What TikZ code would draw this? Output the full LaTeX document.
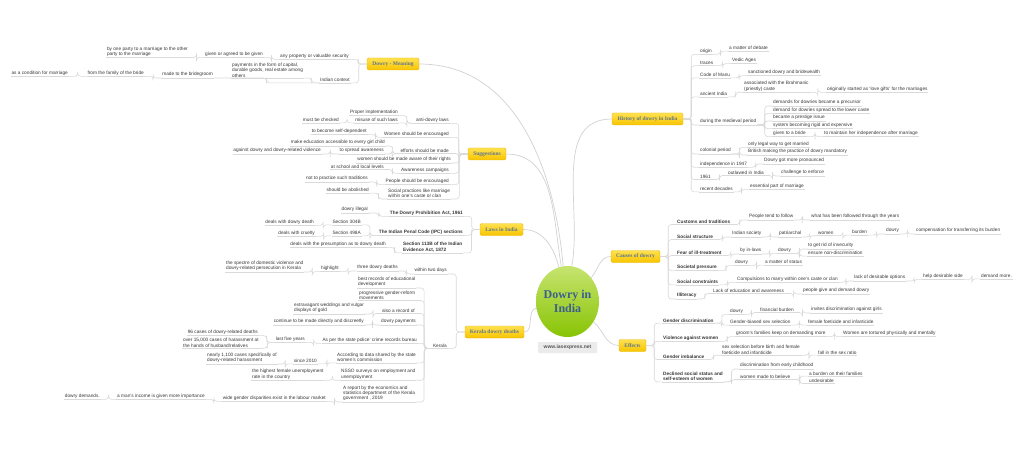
\documentclass[tikz,border=0pt]{standalone}
\usepackage{fontspec}
\setmainfont{Liberation Sans}
\newfontfamily\serifb{Liberation Serif}
\usetikzlibrary{shapes.geometric,calc}
\definecolor{txt}{HTML}{383838}
\definecolor{lnc}{HTML}{DADADA}
\definecolor{mlnc}{HTML}{D2D2D2}
\definecolor{boxtxt}{HTML}{5F7690}
\definecolor{boxtop}{HTML}{FFE14F}
\definecolor{boxbot}{HTML}{F7C400}
\definecolor{boxdraw}{HTML}{E8BC10}
\definecolor{elltop}{HTML}{C6E470}
\definecolor{ellbot}{HTML}{88C404}
\definecolor{centxt}{HTML}{3C5F8C}
\definecolor{wwwbg}{HTML}{EBEBEB}
\definecolor{wwwtxt}{HTML}{555555}
\tikzset{
 lab/.style={font=\fontsize{4.75}{5.35}\selectfont, text=txt, inner xsep=0.7pt, inner ysep=0.9pt, align=left},
 bld/.style={font=\fontsize{4.75}{5.35}\selectfont\bfseries},
 ulc/.style={draw=lnc, line width=0.5pt},
 conn/.style={draw=lnc, line width=0.6pt, rounded corners=3pt},
 mainconn/.style={draw=mlnc, line width=0.7pt},
 topic/.style={rounded corners=1.5pt, top color=boxtop, bottom color=boxbot, draw=boxdraw, line width=0.4pt,
   font=\serifb\bfseries\fontsize{5.5}{6}\selectfont, text=boxtxt, minimum height=12pt, inner sep=0pt},
}
\newcommand\mmnode[4][]{\node[lab,#1] (#2) at (#3) {#4}; \draw[ulc] (#2.south west) -- (#2.south east);}
\newcommand\conR[2]{\draw[conn] (#1.south east) -| ($(#1.south east)!.5!(#2.south west)$) |- (#2.south west);}
\newcommand\conL[2]{\draw[conn] (#1.south west) -| ($(#1.south west)!.5!(#2.south east)$) |- (#2.south east);}
\newcommand\conRb[2]{\draw[conn] (#1.east) -| ($(#1.east)!.5!(#2.south west)$) |- (#2.south west);}
\newcommand\conLb[2]{\draw[conn] (#1.west) -| ($(#1.west)!.5!(#2.south east)$) |- (#2.south east);}
\begin{document}
\begin{tikzpicture}[x=1pt,y=-1pt]
\fill[white] (0,0) rectangle (1024,449);
\useasboundingbox (0,0) rectangle (1024,449);

% centre
\node[ellipse, minimum width=63pt, minimum height=71pt, top color=elltop, bottom color=ellbot, draw=none] (D) at (567.5,301.5) {};
\node[font=\serifb\bfseries\fontsize{12}{13.7}\selectfont, text=centxt, align=center, inner sep=0pt] (Dt) at (D.center) {Dowry in\\India};
\node[fill=wwwbg, rounded corners=1pt, minimum width=59pt, minimum height=11pt, inner sep=0pt, font=\fontsize{5}{6}\selectfont\bfseries, text=wwwtxt] (W) at (567.5,347.5) {www.iasexpress.net};

% main topics
\node[topic, minimum width=52pt] (M) at (393,64) {Dowry - Meaning};
\node[topic, minimum width=38pt] (S) at (487,154) {Suggestions};
\node[topic, minimum width=43pt] (L) at (501.5,229.5) {Laws in India};
\node[topic, minimum width=59pt] (K) at (494.5,332) {Kerala dowry deaths};
\node[topic, minimum width=71pt] (H) at (647.5,119) {History of dowry in India};
\node[topic, minimum width=49pt] (C) at (635.5,256.5) {Causes of dowry};
\node[topic, minimum width=27pt] (E) at (632.5,345.5) {Effects};

\draw[mainconn] (M.east) to[out=0,in=95] (D.97);
\draw[mainconn] (S.east) to[out=0,in=100] (D.100);
\draw[mainconn] (L.east) to[out=0,in=105] (D.104);
\draw[mainconn] (H.west) to[out=180,in=80] (D.83);
\draw[mainconn] (C.west) to[out=180,in=50] (D.45);
\draw[mainconn] (E.west) to[out=180,in=-40] (D.-38);
\draw[mainconn] (K.east) to[out=0,in=190] (D.192);

% Dowry - Meaning
\mmnode[anchor=east]{M1}{349.7,56}{any property or valuable security}
\mmnode[anchor=east]{M11}{263.7,54}{given or agreed to be given}
\mmnode[anchor=east]{M111}{188.7,51.5}{by one party to a marriage to the other\\party to the marriage}
\mmnode[anchor=east]{M2}{350.7,80}{Indian context}
\mmnode[anchor=west]{M21}{231.3,70}{payments in the form of capital,\\durable goods, real estate among\\others}
\mmnode[anchor=east]{M22}{213.7,74.7}{made to the bridegroom}
\mmnode[anchor=east]{M221}{144.7,73}{from the family of the bride}
\mmnode[anchor=east]{M2211}{68.7,73}{as a condition for marriage}
\conLb{M}{M1} \conLb{M}{M2}
\conL{M1}{M11} \conL{M11}{M111}
\conL{M2}{M21} \conL{M2}{M22} \conL{M22}{M221} \conL{M221}{M2211}

% Suggestions
\mmnode[anchor=east]{S1}{449.7,120}{anti-dowry laws}
\mmnode[anchor=east]{S11}{398.7,112.3}{Proper implementation}
\mmnode[anchor=east]{S12}{398.7,120}{misuse of such laws}
\mmnode[anchor=east]{S121}{339.7,120}{must be checked}
\mmnode[anchor=east]{S2}{449.7,134}{Women should be encouraged}
\mmnode[anchor=east]{S21}{367.7,131}{to become self-dependent}
\mmnode[anchor=east]{S3}{449.7,150.7}{efforts should be made}
\mmnode[anchor=east]{S31}{385.7,142.7}{make education accessible to every girl child}
\mmnode[anchor=east]{S32}{384.7,150.7}{to spread awareness}
\mmnode[anchor=east]{S321}{321.7,150.7}{against dowry and dowry-related violence}
\mmnode[anchor=east]{S4}{451.7,159.7}{women should be made aware of their rights}
\mmnode[anchor=east]{S5}{449.7,170}{Awareness campaigns}
\mmnode[anchor=east]{S51}{384.7,166.7}{at school and local levels}
\mmnode[anchor=east]{S6}{449.7,181.3}{People should be encouraged}
\mmnode[anchor=east]{S61}{368.7,178.7}{not to practice such traditions}
\mmnode[anchor=west]{S7}{387.3,193.5}{Social practices like marriage\\within one's caste or clan}
\mmnode[anchor=east]{S71}{369.7,190.3}{should be abolished}
\conLb{S}{S1} \conLb{S}{S2} \conLb{S}{S3} \conLb{S}{S4} \conLb{S}{S5} \conLb{S}{S6} \conLb{S}{S7}
\conL{S1}{S11} \conL{S1}{S12} \conL{S12}{S121} \conL{S2}{S21} \conL{S3}{S31} \conL{S3}{S32}
\conL{S32}{S321} \conL{S5}{S51} \conL{S6}{S61} \conL{S7}{S71}

% Laws in India
\mmnode[bld,anchor=east]{L1}{463.7,213}{The Dowry Prohibition Act, 1961}
\mmnode[anchor=east]{L11}{368.7,209.7}{dowry illegal}
\mmnode[bld,anchor=east]{L2}{463.7,232}{The Indian Penal Code (IPC) sections}
\mmnode[anchor=east]{L21}{361.7,222}{Section 304B}
\mmnode[anchor=east]{L211}{314.7,222}{deals with dowry death}
\mmnode[anchor=east]{L22}{361.7,233}{Section 498A}
\mmnode[anchor=east]{L221}{315.7,233}{deals with cruelty}
\mmnode[bld,anchor=west]{L3}{402.3,247}{Section 113B of the Indian\\Evidence Act, 1872}
\mmnode[anchor=east]{L31}{386.7,244}{deals with the presumption as to dowry death}
\conLb{L}{L1} \conLb{L}{L2} \conLb{L}{L3}
\conL{L1}{L11} \conL{L2}{L21} \conL{L21}{L211} \conL{L2}{L22} \conL{L22}{L221} \conL{L3}{L31}

% Kerala dowry deaths
\mmnode[anchor=east]{K1}{447.7,270.7}{within two days}
\mmnode[anchor=east]{K11}{398.7,267.7}{three dowry deaths}
\mmnode[anchor=east]{K111}{339.7,268.3}{highlight}
\mmnode[anchor=west]{K1111}{225.3,266}{the spectre of domestic violence and\\dowry-related persecution in Kerala}
\mmnode[anchor=east]{K2}{447.7,345.5}{Kerala}
\mmnode[anchor=west]{K21}{357.3,282}{best records of educational\\development}
\mmnode[anchor=west]{K22}{358.3,295}{progressive gender-reform\\movements}
\mmnode[anchor=east]{K23}{415.7,310.7}{also a record of}
\mmnode[anchor=west]{K231}{293.3,308}{extravagant weddings and vulgar\\displays of gold}
\mmnode[anchor=east]{K24}{416.7,321.7}{dowry payments}
\mmnode[anchor=east]{K241}{364.7,321.7}{continue to be made directly and discreetly}
\mmnode[anchor=east]{K25}{417.7,340}{As per the state police' crime records bureau}
\mmnode[anchor=east]{K251}{305.7,339}{last five years}
\mmnode[anchor=east]{K2511}{258.7,332.3}{96 cases of dowry-related deaths}
\mmnode[anchor=west]{K2512}{182.3,342.7}{over 15,000 cases of harassment at\\the hands of husband/relatives}
\mmnode[anchor=west]{K26}{336.3,357.3}{According to data shared by the state\\women's commission}
\mmnode[anchor=east]{K261}{317.7,361}{since 2010}
\mmnode[anchor=west]{K2611}{206.3,358}{nearly 1,100 cases specifically of\\dowry-related harassment}
\mmnode[anchor=west]{K27}{340.3,374.3}{NSSO surveys on employment and\\unemployment}
\mmnode[anchor=west]{K271}{251.3,374.3}{the highest female unemployment\\rate in the country}
\mmnode[anchor=west]{K28}{342.3,393.3}{A report by the economics and\\statistics department of the Kerala\\government , 2019}
\mmnode[anchor=east]{K281}{326.7,398}{wide gender disparities exist in the labour market}
\mmnode[anchor=east]{K2811}{205.7,396}{a man's income is given more importance}
\mmnode[anchor=east]{K28111}{100.7,396}{dowry demands.}
\conLb{K}{K1} \conLb{K}{K2}
\conL{K1}{K11} \conL{K11}{K111} \conL{K111}{K1111}
\conL{K2}{K21} \conL{K2}{K22} \conL{K2}{K23} \conL{K2}{K24} \conL{K2}{K25} \conL{K2}{K26} \conL{K2}{K27} \conL{K2}{K28}
\conL{K23}{K231} \conL{K24}{K241} \conL{K25}{K251} \conL{K251}{K2511} \conL{K251}{K2512}
\conL{K26}{K261} \conL{K261}{K2611} \conL{K27}{K271} \conL{K28}{K281} \conL{K281}{K2811} \conL{K2811}{K28111}

% History of dowry in India
\mmnode[anchor=west]{H1}{699.3,51}{origin}
\mmnode[anchor=west]{H11}{728.3,48.3}{a matter of debate}
\mmnode[anchor=west]{H2}{699.3,63}{traces}
\mmnode[anchor=west]{H21}{731.3,60.3}{Vedic Ages}
\mmnode[anchor=west]{H3}{699.3,75}{Code of Manu}
\mmnode[anchor=west]{H31}{747.3,72.3}{sanctioned dowry and bridewealth}
\mmnode[anchor=west]{H4}{699.3,94}{ancient India}
\mmnode[anchor=west]{H41}{743.3,86.3}{associated with the Brahmanic\\(priestly) caste}
\mmnode[anchor=west]{H411}{826.3,89}{originally started as `love gifts' for the marriages}
\mmnode[anchor=west]{H5}{699.3,121.7}{during the medieval period}
\mmnode[anchor=west]{H51}{772.3,102.7}{demands for dowries became a precursor}
\mmnode[anchor=west]{H52}{772.3,110}{demand for dowries spread to the lower caste}
\mmnode[anchor=west]{H53}{772.3,117.7}{became a prestige issue}
\mmnode[anchor=west]{H54}{772.3,125.3}{system becoming rigid and expensive}
\mmnode[anchor=west]{H55}{772.3,133.3}{given to a bride}
\mmnode[anchor=west]{H551}{823.3,133.3}{to maintain her independence after marriage}
\mmnode[anchor=west]{H6}{699.3,150.7}{colonial period}
\mmnode[anchor=west]{H61}{747.3,144}{only legal way to get married}
\mmnode[anchor=west]{H62}{747.3,151.7}{British making the practice of dowry mandatory}
\mmnode[anchor=west]{H7}{699.3,164}{independence in 1947}
\mmnode[anchor=west]{H71}{763.3,160.7}{Dowry got more pronounced}
\mmnode[anchor=west]{H8}{699.3,176.7}{1961}
\mmnode[anchor=west]{H81}{727.3,172.7}{outlawed in India}
\mmnode[anchor=west]{H811}{780.3,172.7}{challenge to enforce}
\mmnode[anchor=west]{H9}{699.3,189}{recent decades}
\mmnode[anchor=west]{H91}{749.3,186}{essential part of marriage}
\conRb{H}{H1} \conRb{H}{H2} \conRb{H}{H3} \conRb{H}{H4} \conRb{H}{H5} \conRb{H}{H6} \conRb{H}{H7} \conRb{H}{H8} \conRb{H}{H9}
\conR{H1}{H11} \conR{H2}{H21} \conR{H3}{H31} \conR{H4}{H41} \conR{H41}{H411}
\conR{H5}{H51} \conR{H5}{H52} \conR{H5}{H53} \conR{H5}{H54} \conR{H5}{H55} \conR{H55}{H551}
\conR{H6}{H61} \conR{H6}{H62} \conR{H7}{H71} \conR{H8}{H81} \conR{H81}{H811} \conR{H9}{H91}

% Causes of dowry
\mmnode[bld,anchor=west]{C1}{676.3,221.7}{Customs and traditions}
\mmnode[anchor=west]{C11}{748.3,216.7}{People tend to follow}
\mmnode[anchor=west]{C111}{810.3,216.7}{what has been followed through the years}
\mmnode[bld,anchor=west]{C2}{676.3,236.7}{Social structure}
\mmnode[anchor=west]{C21}{731.3,233.7}{Indian society}
\mmnode[anchor=west]{C211}{778.3,233.7}{patriarchal}
\mmnode[anchor=west]{C2111}{817.3,233.3}{women}
\mmnode[anchor=west]{C21111}{851.3,232.3}{burden}
\mmnode[anchor=west]{C211111}{885.3,230.7}{dowry}
\mmnode[anchor=west]{C2111111}{915.3,230.7}{compensation for transferring its burden}
\mmnode[bld,anchor=west]{C3}{676.3,252.7}{Fear of ill-treatment}
\mmnode[anchor=west]{C31}{739.3,250.7}{by in-laws}
\mmnode[anchor=west]{C311}{777.3,250}{dowry}
\mmnode[anchor=west]{C3111}{807.3,245.7}{to get rid of insecurity}
\mmnode[anchor=west]{C3112}{807.3,253.3}{ensure non-discrimination}
\mmnode[bld,anchor=west]{C4}{676.3,267.3}{Societal pressure}
\mmnode[anchor=west]{C41}{734.3,262.3}{dowry}
\mmnode[anchor=west]{C411}{764.3,262.3}{a matter of status}
\mmnode[bld,anchor=west]{C5}{676.3,282}{Social constraints}
\mmnode[anchor=west]{C51}{736.3,279}{Compulsions to marry within one's caste or clan}
\mmnode[anchor=west]{C511}{853.3,277.7}{lack of desirable options}
\mmnode[anchor=west]{C5111}{922.3,276}{help desirable side}
\mmnode[anchor=west]{C51111}{980.3,276}{demand more.}
\mmnode[bld,anchor=west]{C6}{676.3,295.7}{Illiteracy}
\mmnode[anchor=west]{C61}{712.3,290.7}{Lack of education and awareness}
\mmnode[anchor=west]{C611}{802.3,290.7}{people give and demand dowry}
\conRb{C}{C1} \conRb{C}{C2} \conRb{C}{C3} \conRb{C}{C4} \conRb{C}{C5} \conRb{C}{C6}
\conR{C1}{C11} \conR{C11}{C111}
\conR{C2}{C21} \conR{C21}{C211} \conR{C211}{C2111} \conR{C2111}{C21111} \conR{C21111}{C211111} \conR{C211111}{C2111111}
\conR{C3}{C31} \conR{C31}{C311} \conR{C311}{C3111} \conR{C311}{C3112}
\conR{C4}{C41} \conR{C41}{C411}
\conR{C5}{C51} \conR{C51}{C511} \conR{C511}{C5111} \conR{C5111}{C51111}
\conR{C6}{C61} \conR{C61}{C611}

% Effects
\mmnode[bld,anchor=west]{E1}{662.3,320.3}{Gender discrimination}
\mmnode[anchor=west]{E11}{729.3,311}{dowry}
\mmnode[anchor=west]{E111}{759.3,309.7}{financial burden}
\mmnode[anchor=west]{E1111}{810.3,309.7}{invites discrimination against girls}
\mmnode[anchor=west]{E12}{729.3,322.3}{Gender-biased sex selection}
\mmnode[anchor=west]{E121}{807.3,322.3}{female foeticide and infanticide}
\mmnode[bld,anchor=west]{E2}{662.3,338}{Violence against women}
\mmnode[anchor=west]{E21}{735.3,333.3}{groom's families keep on demanding more}
\mmnode[anchor=west]{E211}{842.3,333.3}{Women are tortured physically and mentally}
\mmnode[bld,anchor=west]{E3}{662.3,356.7}{Gender imbalance}
\mmnode[anchor=west]{E31}{721.3,349.7}{sex selection before birth and female\\foeticide and infanticide}
\mmnode[anchor=west]{E311}{817.3,352.3}{fall in the sex ratio}
\mmnode[bld,anchor=west]{E4}{662.3,376.3}{Declined social status and\\self-esteem of women}
\mmnode[anchor=west]{E41}{739.3,365.7}{discrimination from early childhood}
\mmnode[anchor=west]{E42}{739.3,376.7}{women made to believe}
\mmnode[anchor=west]{E421}{808.3,373.3}{a burden on their families}
\mmnode[anchor=west]{E422}{808.3,380.7}{undesirable}
\conRb{E}{E1} \conRb{E}{E2} \conRb{E}{E3} \conRb{E}{E4}
\conR{E1}{E11} \conR{E11}{E111} \conR{E111}{E1111} \conR{E1}{E12} \conR{E12}{E121}
\conR{E2}{E21} \conR{E21}{E211} \conR{E3}{E31} \conR{E31}{E311}
\conR{E4}{E41} \conR{E4}{E42} \conR{E42}{E421} \conR{E42}{E422}
\end{tikzpicture}
\end{document}
